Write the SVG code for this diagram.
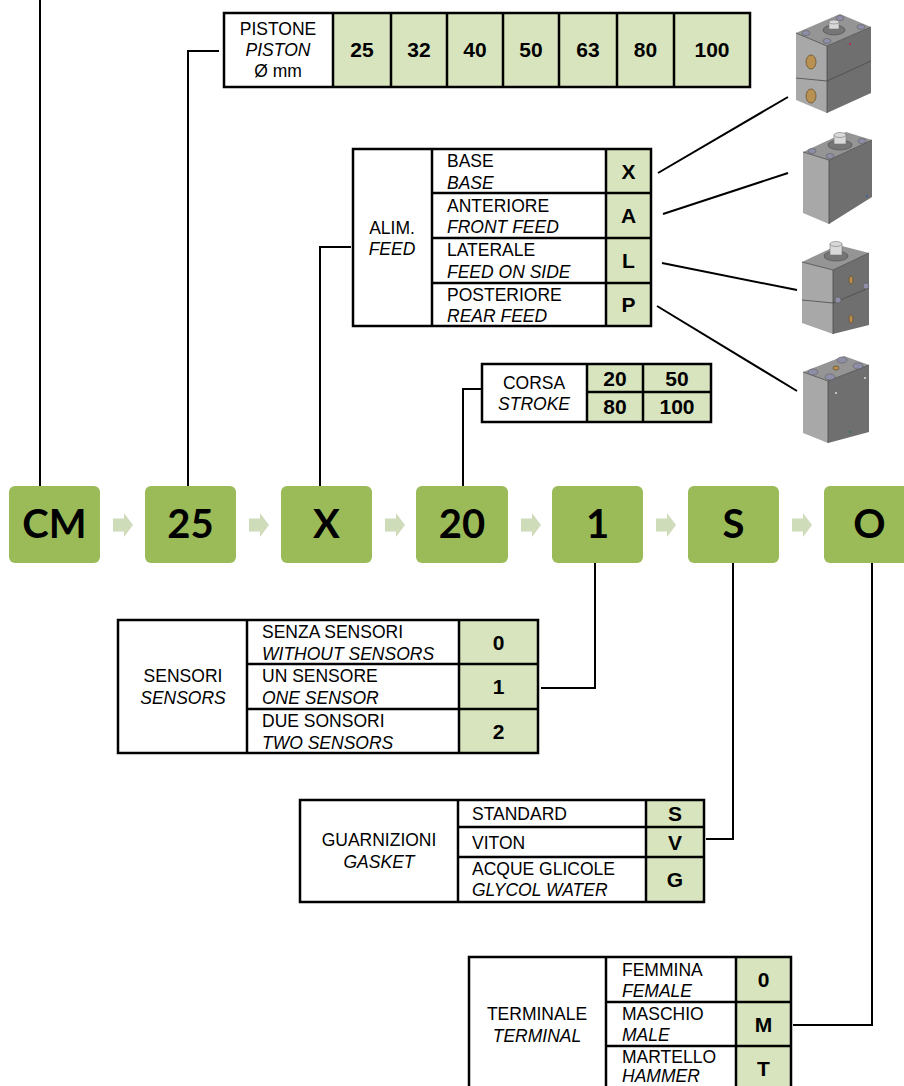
<svg xmlns="http://www.w3.org/2000/svg" width="904" height="1086" viewBox="0 0 904 1086">
<style>
.bg{fill:#ffffff}
.box{fill:#9bbb59}
.btxt{font-family:Lato,"Open Sans","Liberation Sans",sans-serif;font-weight:bold;font-size:40px;fill:#000;text-anchor:middle}
.flow{fill:#cfdcba}
.cell{fill:#d7e4bd}
.grid{fill:none;stroke:#000;stroke-width:2.5}
.t{font-family:"Liberation Sans",Arial,sans-serif;font-size:17.5px;fill:#000}
.i{font-style:italic}
.c{text-anchor:middle}
.v{font-family:"Liberation Sans",Arial,sans-serif;font-weight:bold;font-size:21px;fill:#000;text-anchor:middle}
.conn{fill:none;stroke:#000;stroke-width:2}
.lf{fill:#a8a8a8}
.rf{fill:#6f6f6f}
.tf{fill:#959595}
.edge{fill:none;stroke:#4a4a4a;stroke-width:0.8}
.hole{fill:#8e8ea8;stroke:#555;stroke-width:0.5}
.brass{fill:#b8904f;stroke:#6a5030;stroke-width:0.8}
.boss{fill:#767676;stroke:#4a4a4a;stroke-width:0.6}
.nut{fill:#d9d9d9;stroke:#777;stroke-width:0.6}
</style>
<defs>
<polygon id="flowArrow" class="flow" points="0,-6.5 11,-6.5 11,-12 20,0 11,12 11,6.5 0,6.5"/>
</defs>
<rect class="bg" x="0" y="0" width="904" height="1086"/>

<g id="connectors">
<path class="conn" d="M40,0 V486"/>
<path class="conn" d="M188,486 V51 H219"/>
<path class="conn" d="M320,486 V247 H351"/>
<path class="conn" d="M463,486 V389 H481"/>
<path class="conn" d="M595,563 V688 H541"/>
<path class="conn" d="M733,563 V839 H706"/>
<path class="conn" d="M872,563 V1025 H793"/>
<path class="conn" d="M658,173 L788,97"/>
<path class="conn" d="M663,214 L788,173"/>
<path class="conn" d="M662,263 L797,290"/>
<path class="conn" d="M657,306 L797,391"/>
</g>

<g id="flow-arrows">
<use href="#flowArrow" x="113" y="525"/>
<use href="#flowArrow" x="249" y="525"/>
<use href="#flowArrow" x="385" y="525"/>
<use href="#flowArrow" x="521" y="525"/>
<use href="#flowArrow" x="656" y="525"/>
<use href="#flowArrow" x="792" y="525"/>
</g>

<g id="node-CM"><rect class="box" x="9" y="486" width="91" height="77" rx="6"/><text class="btxt" x="54.5" y="538">CM</text></g>
<g id="node-25"><rect class="box" x="145" y="486" width="91" height="77" rx="6"/><text class="btxt" x="190.5" y="538">25</text></g>
<g id="node-X"><rect class="box" x="281" y="486" width="91" height="77" rx="6"/><text class="btxt" x="326.5" y="538">X</text></g>
<g id="node-20"><rect class="box" x="416" y="486" width="92" height="77" rx="6"/><text class="btxt" x="462" y="538">20</text></g>
<g id="node-1"><rect class="box" x="552" y="486" width="91" height="77" rx="6"/><text class="btxt" x="597.5" y="538">1</text></g>
<g id="node-S"><rect class="box" x="688" y="486" width="91" height="77" rx="6"/><text class="btxt" x="733.5" y="538">S</text></g>
<g id="node-O"><rect class="box" x="824" y="486" width="91" height="77" rx="6"/><text class="btxt" x="869.5" y="538">O</text></g>

<g id="table-piston">
<rect class="cell" x="333" y="13" width="417" height="74"/>
<rect class="grid" x="224" y="13" width="526" height="74"/>
<path class="grid" d="M333,13 V87 M391,13 V87 M447,13 V87 M503,13 V87 M559,13 V87 M617,13 V87 M674,13 V87"/>
<text class="t c" x="278" y="35">PISTONE</text>
<text class="t c i" x="278" y="56">PISTON</text>
<text class="t c" x="278" y="77">Ø mm</text>
<text class="v" x="362" y="57">25</text>
<text class="v" x="419" y="57">32</text>
<text class="v" x="475" y="57">40</text>
<text class="v" x="531" y="57">50</text>
<text class="v" x="588" y="57">63</text>
<text class="v" x="645.5" y="57">80</text>
<text class="v" x="712" y="57">100</text>
</g>

<g id="table-feed">
<rect class="cell" x="606" y="149" width="45" height="177"/>
<rect class="grid" x="353" y="149" width="298" height="177"/>
<path class="grid" d="M432,149 V326 M606,149 V326 M432,193 H651 M432,238 H651 M432,283 H651"/>
<text class="t c" x="392" y="234">ALIM.</text>
<text class="t c i" x="392" y="255">FEED</text>
<text class="t" x="447" y="167">BASE</text>
<text class="t i" x="447" y="189">BASE</text>
<text class="t" x="447" y="212">ANTERIORE</text>
<text class="t i" x="447" y="233">FRONT FEED</text>
<text class="t" x="447" y="256">LATERALE</text>
<text class="t i" x="447" y="278">FEED ON SIDE</text>
<text class="t" x="447" y="301">POSTERIORE</text>
<text class="t i" x="447" y="322">REAR FEED</text>
<text class="v" x="628.5" y="179">X</text>
<text class="v" x="628.5" y="223">A</text>
<text class="v" x="628.5" y="268">L</text>
<text class="v" x="628.5" y="312">P</text>
</g>

<g id="table-stroke">
<rect class="cell" x="587" y="364" width="124" height="58"/>
<rect class="grid" x="482" y="364" width="229" height="58"/>
<path class="grid" d="M587,364 V422 M643,364 V422 M587,392 H711"/>
<text class="t c" x="534" y="389">CORSA</text>
<text class="t c i" x="534" y="410">STROKE</text>
<text class="v" x="615" y="386">20</text>
<text class="v" x="677" y="386">50</text>
<text class="v" x="615" y="414">80</text>
<text class="v" x="677" y="414">100</text>
</g>

<g id="table-sensors">
<rect class="cell" x="459" y="620" width="79" height="133"/>
<rect class="grid" x="118" y="620" width="420" height="133"/>
<path class="grid" d="M247,620 V753 M459,620 V753 M247,664 H538 M247,709 H538"/>
<text class="t c" x="183" y="682">SENSORI</text>
<text class="t c i" x="183" y="704">SENSORS</text>
<text class="t" x="262" y="638">SENZA SENSORI</text>
<text class="t i" x="262" y="660">WITHOUT SENSORS</text>
<text class="t" x="262" y="682">UN SENSORE</text>
<text class="t i" x="262" y="704">ONE SENSOR</text>
<text class="t" x="262" y="727">DUE SONSORI</text>
<text class="t i" x="262" y="749">TWO SENSORS</text>
<text class="v" x="498.5" y="650">0</text>
<text class="v" x="498.5" y="694">1</text>
<text class="v" x="498.5" y="739">2</text>
</g>

<g id="table-gasket">
<rect class="cell" x="646" y="800" width="58" height="102"/>
<rect class="grid" x="300" y="800" width="404" height="102"/>
<path class="grid" d="M458,800 V902 M646,800 V902 M458,827 H704 M458,857 H704"/>
<text class="t c" x="379" y="846">GUARNIZIONI</text>
<text class="t c i" x="379" y="868">GASKET</text>
<text class="t" x="472" y="820">STANDARD</text>
<text class="t" x="472" y="849">VITON</text>
<text class="t" x="472" y="875">ACQUE GLICOLE</text>
<text class="t i" x="472" y="896">GLYCOL WATER</text>
<text class="v" x="675" y="821">S</text>
<text class="v" x="675" y="850">V</text>
<text class="v" x="675" y="887">G</text>
</g>

<g id="table-terminal">
<rect class="cell" x="736" y="957" width="55" height="133"/>
<rect class="grid" x="469" y="957" width="322" height="133"/>
<path class="grid" d="M606,957 V1090 M736,957 V1090 M606,1002 H791 M606,1046 H791"/>
<text class="t c" x="537" y="1020">TERMINALE</text>
<text class="t c i" x="537" y="1042">TERMINAL</text>
<text class="t" x="622" y="976">FEMMINA</text>
<text class="t i" x="622" y="997">FEMALE</text>
<text class="t" x="622" y="1020">MASCHIO</text>
<text class="t i" x="622" y="1041">MALE</text>
<text class="t" x="622" y="1063">MARTELLO</text>
<text class="t i" x="622" y="1082">HAMMER</text>
<text class="v" x="763.5" y="987">0</text>
<text class="v" x="763.5" y="1032">M</text>
<text class="v" x="763.5" y="1076">T</text>
</g>

<g id="cylinder-base">
<polygon class="lf" points="796,33 827,46 827,113 796,100"/>
<polygon class="rf" points="827,46 871,27 871,93 827,113"/>
<polygon class="tf" points="796,33 840,14 871,27 827,46"/>
<path class="edge" d="M796,33 L827,46 L871,27 M827,46 V113 M796,78 L827,81 L871,61"/>
<ellipse class="hole" cx="806" cy="33" rx="4" ry="2.5"/>
<ellipse class="hole" cx="827" cy="41" rx="4" ry="2.5"/>
<ellipse class="hole" cx="840" cy="18" rx="4" ry="2.5"/>
<ellipse class="hole" cx="861" cy="27" rx="4" ry="2.5"/>
<ellipse class="boss" cx="834" cy="30" rx="11" ry="5"/>
<path class="nut" d="M829,29 V22 H839 V29 Z"/>
<ellipse class="nut" cx="834" cy="22" rx="5" ry="2"/>
<ellipse class="brass" cx="811" cy="62" rx="5" ry="7"/>
<ellipse class="brass" cx="811" cy="96" rx="5" ry="7"/>
<circle cx="850" cy="44" r="1" fill="#c02060"/>
</g>

<g id="cylinder-front">
<polygon class="lf" points="803,152 829,160 829,224 803,213"/>
<polygon class="rf" points="829,160 872,140 872,197 829,224"/>
<polygon class="tf" points="803,152 846,132 872,140 829,160"/>
<path class="edge" d="M803,152 L829,160 L872,140 M829,160 V224"/>
<ellipse class="hole" cx="812" cy="151" rx="4" ry="2.5"/>
<ellipse class="hole" cx="830" cy="156" rx="4" ry="2.5"/>
<ellipse class="hole" cx="862" cy="141" rx="4" ry="2.5"/>
<ellipse class="boss" cx="840" cy="145" rx="12" ry="5"/>
<path class="nut" d="M834,144 V135 H846 V144 Z"/>
<ellipse class="nut" cx="840" cy="135" rx="6" ry="2.5"/>
<circle cx="867" cy="196" r="1" fill="#3060a0"/>
</g>

<g id="cylinder-side">
<polygon class="lf" points="802,262 833,270 833,334 802,323"/>
<polygon class="rf" points="833,270 869,253 869,325 833,334"/>
<polygon class="tf" points="802,262 838,245 869,253 833,270"/>
<path class="edge" d="M802,262 L833,270 L869,253 M833,270 V334 M802,300 L833,303 L869,288"/>
<ellipse class="boss" cx="836" cy="256" rx="12" ry="5"/>
<path class="nut" d="M830,255 V244 H842 V255 Z"/>
<ellipse class="nut" cx="836" cy="244" rx="6" ry="2.5"/>
<ellipse class="brass" cx="851" cy="280" rx="2" ry="4"/>
<ellipse class="brass" cx="851" cy="319" rx="2" ry="4"/>
<ellipse class="hole" cx="838" cy="300" rx="3" ry="3"/>
<ellipse class="hole" cx="866" cy="286" rx="3" ry="3"/>
</g>

<g id="cylinder-rear">
<polygon class="lf" points="803,372 828,381 828,443 803,433"/>
<polygon class="rf" points="828,381 869,365 869,432 828,443"/>
<polygon class="tf" points="803,372 844,356 869,365 828,381"/>
<path class="edge" d="M803,372 L828,381 L869,365 M828,381 V443"/>
<ellipse class="hole" cx="813" cy="372" rx="5" ry="3"/>
<ellipse class="hole" cx="830" cy="377" rx="5" ry="3"/>
<ellipse class="hole" cx="842" cy="360" rx="5" ry="3"/>
<ellipse class="hole" cx="858" cy="366" rx="5" ry="3"/>
<ellipse class="brass" cx="836" cy="368" rx="3" ry="2"/>
<circle cx="836" cy="393" r="1" fill="#ddd"/>
<circle cx="865" cy="378" r="1" fill="#ddd"/>
<circle cx="850" cy="432" r="1" fill="#2a7060"/>
</g>
</svg>
